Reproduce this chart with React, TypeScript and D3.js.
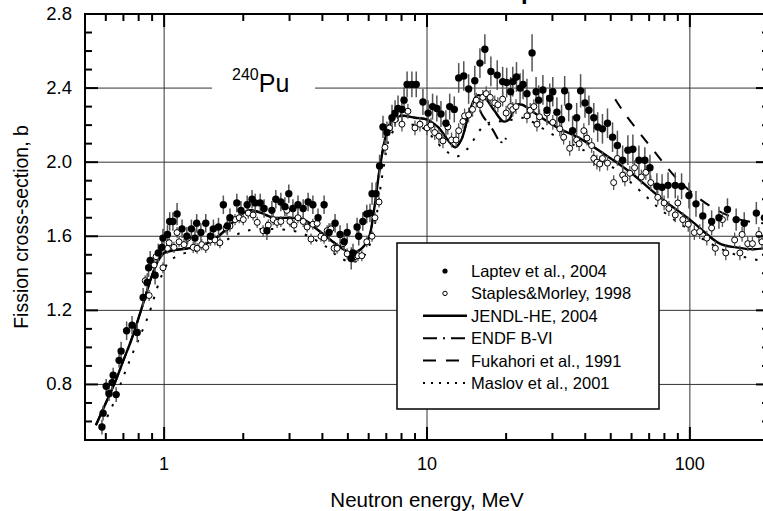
import React from "react";
import * as d3 from "d3";

type P = [number, number, number];

const laptev: P[] = [
  [0.58,0.57,0.04],[0.586,0.645,0.04],[0.602,0.79,0.04],[0.617,0.75,0.04],[0.634,0.81,0.04],[0.64,0.85,0.04],
  [0.657,0.745,0.04],[0.674,0.93,0.04],[0.686,0.98,0.05],[0.72,1.09,0.05],[0.755,1.12,0.05],[0.79,1.08,0.05],
  [0.832,1.27,0.05],[0.862,1.35,0.05],[0.873,1.43,0.05],[0.885,1.47,0.05],[0.924,1.39,0.05],[0.95,1.51,0.05],
  [0.98,1.54,0.05],[0.99,1.59,0.05],[1.03,1.61,0.05],[1.05,1.68,0.05],[1.08,1.68,0.05],[1.12,1.72,0.06],
  [1.17,1.64,0.05],[1.22,1.6,0.05],[1.27,1.64,0.05],[1.31,1.59,0.05],[1.33,1.67,0.05],[1.38,1.62,0.05],
  [1.44,1.67,0.05],[1.5,1.6,0.05],[1.54,1.64,0.05],[1.61,1.65,0.05],[1.68,1.77,0.05],[1.74,1.655,0.05],
  [1.78,1.7,0.05],[1.89,1.78,0.05],[1.96,1.74,0.05],[2.07,1.77,0.05],[2.16,1.8,0.05],[2.22,1.78,0.05],
  [2.32,1.78,0.05],[2.4,1.75,0.05],[2.46,1.63,0.05],[2.57,1.74,0.05],[2.66,1.8,0.05],[2.78,1.785,0.05],
  [2.88,1.76,0.05],[2.98,1.83,0.05],[3.09,1.75,0.05],[3.23,1.77,0.05],[3.38,1.75,0.05],[3.53,1.785,0.05],
  [3.68,1.77,0.05],[3.85,1.7,0.05],[4.06,1.77,0.05],[4.24,1.62,0.05],[4.47,1.67,0.05],[4.67,1.61,0.05],
  [4.84,1.57,0.05],[4.97,1.62,0.05],[5.15,1.48,0.06],[5.23,1.51,0.05],[5.42,1.65,0.05],[5.5,1.6,0.05],
  [5.7,1.68,0.05],[5.9,1.72,0.05],[6.07,1.725,0.05],[6.18,1.83,0.06],[6.4,1.83,0.06],[6.6,1.98,0.06],
  [6.8,2.19,0.06],[7.04,2.16,0.06],[7.36,2.24,0.07],[7.56,2.265,0.07],[7.76,2.29,0.07],[8.03,2.285,0.07],
  [8.18,2.335,0.07],[8.4,2.42,0.07],[8.76,2.42,0.07],[9.1,2.42,0.07],[9.65,2.325,0.07],[10.1,2.265,0.07],
  [10.5,2.3,0.07],[10.9,2.29,0.07],[11.3,2.26,0.07],[11.8,2.21,0.07],[12.2,2.3,0.07],[12.7,2.285,0.07],
  [13.2,2.455,0.08],[13.8,2.465,0.08],[14.4,2.395,0.08],[15.2,2.44,0.08],[15.9,2.535,0.08],[16.6,2.61,0.08],
  [17.5,2.49,0.08],[18.5,2.47,0.08],[19.4,2.435,0.08],[20.1,2.43,0.08],[20.8,2.38,0.08],[21.2,2.435,0.08],
  [21.9,2.46,0.08],[22.6,2.4,0.08],[23.2,2.42,0.08],[24.0,2.37,0.08],[25.1,2.59,0.1],[26.0,2.38,0.08],
  [26.6,2.335,0.08],[27.6,2.39,0.08],[28.6,2.28,0.08],[29.3,2.345,0.08],[30.1,2.38,0.08],[31.2,2.27,0.08],
  [32.5,2.23,0.08],[33.4,2.385,0.08],[34.6,2.3,0.08],[35.8,2.17,0.08],[37.1,2.24,0.08],[38.4,2.385,0.09],
  [39.9,2.32,0.08],[41.3,2.28,0.08],[43.1,2.24,0.08],[44.6,2.19,0.08],[46.5,2.18,0.08],[48.6,2.21,0.08],
  [50.8,2.135,0.08],[53.0,2.09,0.08],[55.5,2.01,0.08],[58.1,2.065,0.08],[60.7,2.07,0.08],[64.0,2.01,0.08],
  [67.4,2.01,0.07],[70.5,1.97,0.07],[74.9,1.87,0.07],[78.4,1.865,0.07],[82.6,1.875,0.07],[88,1.875,0.07],
  [93,1.87,0.07],[99.2,1.82,0.07],[105.5,1.775,0.07],[112,1.71,0.07],[121,1.68,0.06],[129,1.7,0.06],
  [139,1.745,0.06],[150,1.69,0.06],[161,1.67,0.06],[179,1.725,0.06],[192,1.7,0.06]
];

const staples: P[] = [
  [0.847,1.36,0.03],[0.877,1.28,0.03],[0.916,1.445,0.03],[0.932,1.49,0.03],[0.99,1.43,0.03],[1.03,1.535,0.03],
  [1.045,1.565,0.03],[1.09,1.54,0.03],[1.12,1.62,0.03],[1.14,1.57,0.03],[1.19,1.555,0.03],[1.23,1.59,0.03],
  [1.29,1.54,0.03],[1.335,1.535,0.03],[1.39,1.555,0.03],[1.44,1.54,0.03],[1.5,1.58,0.03],[1.56,1.58,0.03],
  [1.63,1.565,0.03],[1.72,1.645,0.03],[1.78,1.655,0.03],[1.86,1.69,0.03],[1.93,1.7,0.03],[2.0,1.69,0.03],
  [2.09,1.725,0.03],[2.18,1.715,0.03],[2.26,1.675,0.03],[2.38,1.63,0.03],[2.49,1.66,0.03],[2.6,1.69,0.03],
  [2.69,1.675,0.03],[2.78,1.68,0.03],[2.93,1.74,0.03],[3.01,1.68,0.03],[3.12,1.66,0.03],[3.23,1.7,0.03],
  [3.38,1.68,0.03],[3.5,1.65,0.03],[3.62,1.585,0.03],[3.68,1.665,0.03],[3.82,1.67,0.03],[3.95,1.6,0.03],
  [4.06,1.59,0.03],[4.17,1.63,0.03],[4.31,1.64,0.03],[4.43,1.535,0.03],[4.55,1.535,0.03],[4.79,1.56,0.03],
  [4.97,1.505,0.03],[5.32,1.49,0.03],[5.46,1.495,0.03],[5.65,1.495,0.03],[5.9,1.57,0.03],[6.18,1.6,0.03],
  [6.34,1.7,0.03],[6.57,1.785,0.03],[6.92,2.08,0.04],[7.2,2.185,0.04],[7.56,2.23,0.04],[7.76,2.265,0.04],
  [8.03,2.205,0.04],[8.46,2.275,0.04],[9.0,2.185,0.04],[9.4,2.205,0.04],[10.0,2.185,0.04],[10.35,2.2,0.04],
  [10.7,2.16,0.04],[11.1,2.14,0.04],[11.5,2.115,0.04],[12.0,2.19,0.04],[12.4,2.12,0.04],[12.9,2.12,0.04],
  [13.2,2.17,0.04],[13.7,2.22,0.04],[13.9,2.25,0.04],[14.4,2.255,0.04],[14.9,2.285,0.04],[15.4,2.335,0.04],
  [15.9,2.31,0.04],[16.3,2.35,0.04],[16.8,2.37,0.04],[17.4,2.35,0.04],[18.1,2.32,0.04],[18.6,2.31,0.04],
  [19.4,2.34,0.04],[20.0,2.265,0.04],[20.8,2.3,0.04],[21.2,2.285,0.04],[21.8,2.3,0.04],[24.0,2.25,0.04],
  [24.7,2.28,0.04],[25.5,2.3,0.04],[26.2,2.205,0.04],[26.8,2.245,0.04],[28.6,2.265,0.04],[30.1,2.215,0.04],
  [32.0,2.18,0.04],[33.1,2.135,0.04],[34.9,2.075,0.04],[37.1,2.12,0.04],[37.9,2.1,0.04],[39.5,2.17,0.04],
  [40.6,2.13,0.04],[42.3,2.09,0.04],[43.1,2.02,0.04],[44.3,2.0,0.04],[45.4,1.99,0.04],[46.5,2.02,0.04],
  [48.6,1.995,0.04],[51.3,1.89,0.04],[53.0,2.02,0.04],[55.5,1.93,0.04],[56.6,1.91,0.04],[59.1,1.94,0.04],
  [61.6,1.97,0.04],[65.4,1.92,0.04],[68.0,1.945,0.04],[71,1.89,0.04],[75.5,1.81,0.04],[79.8,1.78,0.04],
  [83.2,1.75,0.04],[88,1.715,0.04],[90,1.78,0.04],[94,1.69,0.04],[98.6,1.665,0.04],[104,1.62,0.04],
  [109,1.625,0.04],[116,1.59,0.04],[121,1.645,0.04],[125,1.535,0.04],[133,1.69,0.04],[137,1.51,0.04],
  [148,1.58,0.04],[155,1.51,0.04],[158,1.61,0.04],[166,1.56,0.04],[173,1.56,0.04],[183,1.61,0.04],[188,1.57,0.04]
];

const jendl: [number, number][] = [
  [0.55,0.58],[0.6,0.7],[0.65,0.81],[0.7,0.93],[0.75,1.04],[0.8,1.16],[0.85,1.28],[0.9,1.39],[0.95,1.47],
  [1.0,1.51],[1.1,1.525],[1.3,1.54],[1.5,1.57],[1.7,1.63],[1.9,1.7],[2.1,1.74],[2.3,1.73],[2.6,1.7],[3.0,1.7],
  [3.4,1.69],[3.8,1.64],[4.3,1.58],[4.8,1.53],[5.2,1.51],[5.6,1.53],[6.0,1.59],[6.3,1.75],[6.6,1.96],[7.0,2.15],
  [7.4,2.23],[8,2.25],[9,2.24],[10,2.23],[11,2.19],[12,2.12],[12.8,2.08],[13.5,2.12],[14.5,2.27],[15.5,2.36],
  [16.5,2.35],[18,2.28],[19.5,2.22],[20.5,2.23],[22,2.31],[23,2.31],[26,2.26],[32,2.18],[38,2.13],[50,2.02],
  [60,1.94],[77,1.81],[100,1.69],[130,1.56],[150,1.54],[175,1.53],[200,1.54]
];

const endf: [number, number][] = [
  [0.55,0.58],[0.6,0.7],[0.65,0.81],[0.7,0.93],[0.75,1.04],[0.8,1.16],[0.85,1.28],[0.9,1.39],[0.95,1.47],
  [1.0,1.51],[1.1,1.525],[1.3,1.54],[1.5,1.57],[1.7,1.63],[1.9,1.7],[2.1,1.74],[2.3,1.73],[2.6,1.7],[3.0,1.7],
  [3.4,1.69],[3.8,1.64],[4.3,1.58],[4.8,1.53],[5.2,1.51],[5.6,1.53],[6.0,1.59],[6.3,1.75],[6.6,1.96],[7.0,2.15],
  [7.4,2.23],[8,2.25],[9,2.24],[10,2.23],[11,2.19],[12,2.12],[12.8,2.08],[13.5,2.12],[14.5,2.27],[15.2,2.33],
  [16.3,2.25],[17.7,2.18],[19.0,2.11],[19.5,2.11],[20,2.13]
];

const fukahori: [number, number][] = [
  [52,2.34],[56,2.27],[65,2.15],[75,2.04],[88,1.92],[105,1.82],[127,1.74],[155,1.69],[190,1.67],[200,1.67]
];

const maslov: [number, number][] = [
  [0.58,0.57],[0.6,0.61],[0.634,0.68],[0.69,0.82],[0.755,0.96],[0.87,1.17],[0.94,1.32],[0.98,1.39],[1.04,1.46],
  [1.15,1.5],[1.4,1.53],[1.63,1.56],[1.83,1.6],[2.07,1.63],[2.5,1.64],[3.28,1.62],[4.17,1.54],[4.6,1.49],
  [5.2,1.46],[5.8,1.5],[6.3,1.65],[6.8,1.95],[7.3,2.15],[8,2.2],[9.5,2.19],[11.4,2.08],[12.9,2.03],[14.2,2.07],
  [15.2,2.13],[16.5,2.2],[18,2.22],[20,2.22],[23,2.24],[30,2.15],[40,2.06],[50,1.98],[63,1.86],[78,1.74],
  [98,1.64],[120,1.56],[150,1.5],[200,1.46]
];

const xMajor = [1, 10, 100];
const xMinor = [0.6,0.7,0.8,0.9,2,3,4,5,6,7,8,9,20,30,40,50,60,70,80,90,200];
const yLabels = [0.8, 1.2, 1.6, 2.0, 2.4, 2.8];
const yMinor = [0.6,0.7,0.9,1.0,1.1,1.3,1.4,1.5,1.7,1.8,1.9,2.1,2.2,2.3,2.5,2.6,2.7];

const legendItems = [
  { label: "Laptev et al., 2004", kind: "filled" },
  { label: "Staples&Morley, 1998", kind: "open" },
  { label: "JENDL-HE, 2004", kind: "solid" },
  { label: "ENDF B-VI", kind: "dashdot" },
  { label: "Fukahori et al., 1991", kind: "dashed" },
  { label: "Maslov et al., 2001", kind: "dotted" },
];

const FONT = "'Liberation Sans', Arial, Helvetica, sans-serif";
const L = 85, R = 769, T = 14, B = 440;

export default function App() {
  const x = d3.scaleLog().domain([0.5, 200]).range([L, R]);
  const y = d3.scaleLinear().domain([0.5, 2.8]).range([B, T]);
  const line = d3.line<[number, number]>().x(d => x(d[0])).y(d => y(d[1])).curve(d3.curveCatmullRom.alpha(0.5));

  const styles: Record<string, any> = {
    solid: { strokeWidth: 2.4 },
    dashdot: { strokeWidth: 2, strokeDasharray: "12,4,2,4" },
    dashed: { strokeWidth: 2, strokeDasharray: "11,11" },
    dotted: { strokeWidth: 2, strokeDasharray: "2.5,9" },
  };

  const lx0 = 423, lx1 = 467, ltx = 471, ly0 = 271, ldy = 22.4;

  return (
    <svg width={763} height={511} style={{ position: "absolute", left: 0, top: 0, background: "#fff" }} fontFamily={FONT}>
      <defs>
        <clipPath id="plot"><rect x={L} y={T} width={R - L} height={B - T} /></clipPath>
      </defs>
      <rect x={0} y={0} width={763} height={511} fill="#fff" />
      <text x={521} y={-1} fontSize={24} fontWeight="bold" textAnchor="end">Com</text>
      <text x={521} y={-1} fontSize={24} fontWeight="bold">parison</text>
      {/* grid */}
      {xMajor.map(v => <line key={"gx" + v} x1={x(v)} x2={x(v)} y1={T} y2={B} stroke="#333" strokeWidth={1} />)}
      {yLabels.filter(v => v < 2.8).map(v => <line key={"gy" + v} x1={L} x2={R} y1={y(v)} y2={y(v)} stroke="#333" strokeWidth={1} />)}
      {/* 240Pu label box */}
      <rect x={212} y={62} width={103} height={36} fill="#fff" />
      <text x={232} y={92} fontSize={25}><tspan fontSize={16} dy={-12}>240</tspan><tspan dy={12}>Pu</tspan></text>
      <g clipPath="url(#plot)">
        <path d={line(maslov)!} fill="none" stroke="#000" {...styles.dotted} />
        <path d={line(fukahori)!} fill="none" stroke="#000" {...styles.dashed} />
        <path d={line(endf)!} fill="none" stroke="#000" {...styles.dashdot} />
        <path d={line(jendl)!} fill="none" stroke="#000" {...styles.solid} />
        {staples.map((d, i) => (
          <line key={"se" + i} x1={x(d[0])} x2={x(d[0])} y1={y(d[1] - d[2])} y2={y(d[1] + d[2])} stroke="#555" strokeWidth={1.3} />
        ))}
        {laptev.map((d, i) => (
          <line key={"le" + i} x1={x(d[0])} x2={x(d[0])} y1={y(d[1] - d[2])} y2={y(d[1] + d[2])} stroke="#555" strokeWidth={1.5} />
        ))}
        {staples.map((d, i) => (
          <circle key={"s" + i} cx={x(d[0])} cy={y(d[1])} r={3} fill="#fff" stroke="#000" strokeWidth={1} />
        ))}
        {laptev.map((d, i) => (
          <circle key={"l" + i} cx={x(d[0])} cy={y(d[1])} r={3.7} fill="#000" />
        ))}
      </g>
      {/* legend */}
      <rect x={397} y={243} width={262} height={166} fill="#fff" stroke="#000" strokeWidth={1.5} />
      {legendItems.map((it, i) => {
        const yy = ly0 + i * ldy;
        return (
          <g key={it.label}>
            {it.kind === "filled" && <circle cx={445} cy={yy} r={2.6} fill="#000" />}
            {it.kind === "open" && <circle cx={445} cy={yy} r={2.2} fill="#fff" stroke="#000" strokeWidth={1} />}
            {["solid", "dashdot", "dashed", "dotted"].includes(it.kind) && (
              <line x1={lx0} x2={lx1} y1={yy} y2={yy} stroke="#000" {...styles[it.kind]}
                strokeDasharray={it.kind === "dotted" ? "2,6" : it.kind === "dashed" ? "13,10" : it.kind === "dashdot" ? "14,6,2,6" : undefined} />
            )}
            <text x={ltx} y={yy + 6} fontSize={16.5}>{it.label}</text>
          </g>
        );
      })}
      {/* axes frame */}
      <rect x={L} y={T} width={R - L} height={B - T} fill="none" stroke="#000" strokeWidth={2} />
      {xMajor.map(v => (
        <g key={"xt" + v}>
          <line x1={x(v)} x2={x(v)} y1={B} y2={B - 13} stroke="#000" strokeWidth={2} />
          <line x1={x(v)} x2={x(v)} y1={T} y2={T + 13} stroke="#000" strokeWidth={2} />
          <text x={x(v)} y={470} fontSize={18} textAnchor="middle">{v}</text>
        </g>
      ))}
      {xMinor.map(v => (
        <g key={"xm" + v}>
          <line x1={x(v)} x2={x(v)} y1={B} y2={B - 7} stroke="#000" strokeWidth={2} />
          <line x1={x(v)} x2={x(v)} y1={T} y2={T + 7} stroke="#000" strokeWidth={2} />
        </g>
      ))}
      {yLabels.map(v => (
        <g key={"yt" + v}>
          <line x1={L} x2={L + 13} y1={y(v)} y2={y(v)} stroke="#000" strokeWidth={2} />
          <line x1={R} x2={R - 13} y1={y(v)} y2={y(v)} stroke="#000" strokeWidth={2} />
          <text x={72} y={y(v) + 6} fontSize={18.5} textAnchor="end">{v.toFixed(1)}</text>
        </g>
      ))}
      {yMinor.map(v => (
        <g key={"ym" + v}>
          <line x1={L} x2={L + 7} y1={y(v)} y2={y(v)} stroke="#000" strokeWidth={2} />
          <line x1={R} x2={R - 7} y1={y(v)} y2={y(v)} stroke="#000" strokeWidth={2} />
        </g>
      ))}
      <text x={427} y={507} fontSize={20.5} textAnchor="middle">Neutron energy, MeV</text>
      <text transform={`translate(28,${(T + B) / 2}) rotate(-90)`} fontSize={19.5} textAnchor="middle">Fission cross-section, b</text>
    </svg>
  );
}
